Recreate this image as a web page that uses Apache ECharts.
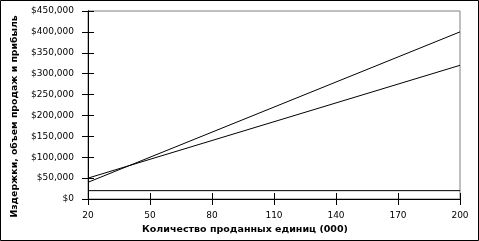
<!DOCTYPE html>
<html><head><meta charset="utf-8">
<script src="https://cdn.jsdelivr.net/npm/echarts@6/dist/echarts.min.js"></script>
<style>html,body{margin:0;padding:0;background:#fff}#c{width:479px;height:241px}</style>
</head><body><div id="c"></div>
<script>
var units = ['20','50','80','110','140','170','200'];
var revenue = [40000,100000,160000,220000,280000,340000,400000];
var totalCost = [50000,95000,140000,185000,230000,275000,320000];
var fixedCost = [20000,20000,20000,20000,20000,20000,20000];
var yTitle = 'Издержки, объем продаж и прибыль';
var xTitle = 'Количество проданных единиц (000)';
var font = 'DejaVu Sans';
function fmt(v){return '$' + v.toLocaleString('en-US');}
var chart = echarts.init(document.getElementById('c'), null, {renderer:'canvas'});
var baseX = {type:'category', data:units, boundaryGap:false, position:'bottom',
  axisLine:{show:true, lineStyle:{color:'#000', width:1}},
  splitLine:{show:false}};
var baseY = {type:'value', min:0, max:450000, interval:50000, position:'left',
  axisLine:{show:true, lineStyle:{color:'#000', width:1}},
  splitLine:{show:false}};
chart.setOption({
  animation:false,
  graphic:[
    {type:'rect', shape:{x:0.5,y:0.5,width:478,height:240}, style:{fill:'none', stroke:'#000', lineWidth:1}, z:100},
    {type:'text', x:15, y:116.5, rotation:Math.PI/2,
      style:{text:yTitle, font:'bold 9.3px "DejaVu Sans"', fill:'#000', textAlign:'center', textVerticalAlign:'middle'}},
    {type:'text', x:245, y:230,
      style:{text:xTitle, font:'bold 9.5px "DejaVu Sans"', fill:'#000', textAlign:'center', textVerticalAlign:'middle'}}
  ],
  grid:{left:88, right:19, top:11, bottom:42, show:true, borderColor:'#808080', borderWidth:1},
  xAxis:[
    Object.assign({}, baseX, {
      axisTick:{show:true, inside:false, length:6, lineStyle:{color:'#000'}},
      axisLabel:{margin:12, fontFamily:font, fontSize:9, color:'#000'}
    }),
    Object.assign({}, baseX, {
      axisTick:{show:true, inside:true, length:6, lineStyle:{color:'#000'}},
      axisLabel:{show:false}
    })
  ],
  yAxis:[
    Object.assign({}, baseY, {
      axisTick:{show:true, inside:false, length:6, lineStyle:{color:'#000'}},
      axisLabel:{margin:14, fontFamily:font, fontSize:9, color:'#000', formatter:fmt}
    }),
    Object.assign({}, baseY, {
      axisTick:{show:true, inside:true, length:6, lineStyle:{color:'#000'}},
      axisLabel:{show:false}
    })
  ],
  series:[
    {type:'line', name:'Revenue', data:revenue, symbol:'none', lineStyle:{color:'#000', width:1}},
    {type:'line', name:'Total cost', data:totalCost, symbol:'none', lineStyle:{color:'#000', width:1}},
    {type:'line', name:'Fixed cost', data:fixedCost, symbol:'none', lineStyle:{color:'#000', width:1}}
  ]
});
</script></body></html>
